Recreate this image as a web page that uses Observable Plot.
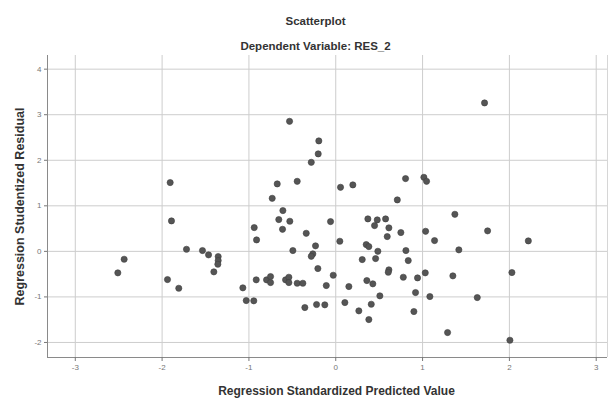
<!DOCTYPE html>
<html><head><meta charset="utf-8">
<script src="https://cdn.jsdelivr.net/npm/d3@7"></script>
<script src="https://cdn.jsdelivr.net/npm/@observablehq/plot@0.6"></script>
<style>html,body{margin:0;padding:0;background:#fff}</style>
</head><body><div id="chart"></div>
<script>
const predicted = [
 -2.510,-2.437,-1.938,-1.907,-1.892,-1.808,-1.719,-1.535,-1.465,-1.354,
 -1.354,-1.358,-1.404,-1.070,-1.031,-0.944,-0.939,-0.912,-0.916,-0.797,
 -0.751,-0.751,-0.732,-0.674,-0.656,-0.609,-0.613,-0.578,-0.540,-0.540,
 -0.532,-0.529,-0.494,-0.444,-0.444,-0.379,-0.356,-0.340,-0.282,-0.202,
 -0.195,-0.233,-0.264,-0.282,-0.206,-0.221,-0.126,-0.109,-0.060,-0.029,
  0.055, 0.047, 0.105, 0.151, 0.197, 0.266, 0.305, 0.351, 0.381, 0.358,
  0.370, 0.381, 0.409, 0.427, 0.447, 0.459, 0.478, 0.485, 0.508, 0.574,
  0.593, 0.612, 0.612, 0.605, 0.709, 0.750, 0.778, 0.804, 0.808, 0.835,
  0.900, 0.919, 0.942, 1.015, 1.046, 1.031, 1.035, 1.084, 1.138, 1.288,
  1.349, 1.372, 1.418, 1.630, 1.714, 1.749, 2.006, 2.029, 2.218
];
const residual = [
 -0.472,-0.173,-0.619, 1.510, 0.669,-0.810, 0.046, 0.018,-0.077,-0.114,
 -0.202,-0.283,-0.450,-0.801,-1.080,-1.086, 0.522, 0.252,-0.625,-0.625,
 -0.553,-0.685, 1.165, 1.481, 0.698, 0.895, 0.485,-0.625,-0.568,-0.685,
  2.855, 0.661, 0.018, 1.538,-0.700,-0.700,-1.233, 0.397, 1.955, 2.140,
  2.425, 0.121,-0.055,-0.108,-0.377,-1.167,-1.174,-0.750, 0.654,-0.524,
  1.407, 0.222,-1.124,-0.772, 1.459,-1.306,-0.180, 0.149, 0.105,-0.641,
  0.713,-1.497,-1.161,-0.713, 0.566,-0.158, 0.691, 0.002,-0.977, 0.713,
  0.325, 0.516,-0.406,-0.459, 1.130, 0.413,-0.568, 1.598, 0.018,-0.202,
 -1.321,-0.904,-0.582, 1.626, 1.538,-0.472, 0.441,-0.992, 0.237,-1.782,
 -0.538, 0.814, 0.033,-1.014, 3.259, 0.450,-1.951,-0.465, 0.230
];
const xTicks = [-3, -2, -1, 0, 1, 2, 3];
const yTicks = [-2, -1, 0, 1, 2, 3, 4];
const titleText = ["Scatterplot"];
const subtitleText = ["Dependent Variable: RES_2"];
const xLabel = ["Regression Standardized Predicted Value"];
const yLabel = ["Regression Studentized Residual"];

const data = predicted.map((x, i) => ({x, y: residual[i]}));
const xDomain = [-3.32, 3.13];
const yDomain = [-2.33, 4.3];
const fmt = d => String(d);

const chart = Plot.plot({
  width: 614,
  height: 399,
  marginLeft: 47,
  marginRight: 7,
  marginTop: 55,
  marginBottom: 42,
  style: {fontFamily: "'Liberation Sans', Arial, sans-serif", background: "#fff", color: "#222"},
  x: {domain: xDomain},
  y: {domain: yDomain},
  marks: [
    Plot.gridX(xTicks, {stroke: "#cdcdcd", strokeOpacity: 1, strokeWidth: 1}),
    Plot.gridY(yTicks, {stroke: "#cdcdcd", strokeOpacity: 1, strokeWidth: 1}),
    Plot.ruleX([xDomain[1]], {stroke: "#d6d6d6"}),
    Plot.ruleX([xDomain[0]], {stroke: "#8a8a8a"}),
    Plot.ruleY([yDomain[0]], {stroke: "#8a8a8a"}),
    Plot.axisX({ticks: xTicks, tickFormat: fmt, tickSize: 4, tickPadding: 3, fontSize: 8, color: "#777", label: null}),
    Plot.axisY({ticks: yTicks, tickFormat: fmt, tickSize: 3, tickPadding: 3, fontSize: 8, color: "#777", label: null}),
    Plot.dot(data, {x: "x", y: "y", r: 3.1, fill: "#555", stroke: "#404040", strokeWidth: 0.6}),
    Plot.text(titleText, {frameAnchor: "top", dy: -34, dx: -12, lineAnchor: "middle", fontSize: 11.5, fontWeight: "bold", fill: "#333"}),
    Plot.text(subtitleText, {frameAnchor: "top", dy: -9, dx: -12, lineAnchor: "middle", fontSize: 11.5, fontWeight: "bold", fill: "#333"}),
    Plot.text(xLabel, {frameAnchor: "bottom", dy: 34, dx: 9, lineAnchor: "middle", textAnchor: "middle", fontSize: 12, fontWeight: "bold", fill: "#333"}),
    Plot.text(yLabel, {frameAnchor: "left", dx: -28, rotate: -90, lineAnchor: "middle", textAnchor: "middle", fontSize: 12.5, fontWeight: "bold", fill: "#333"})
  ]
});
document.getElementById("chart").append(chart);
</script></body></html>
